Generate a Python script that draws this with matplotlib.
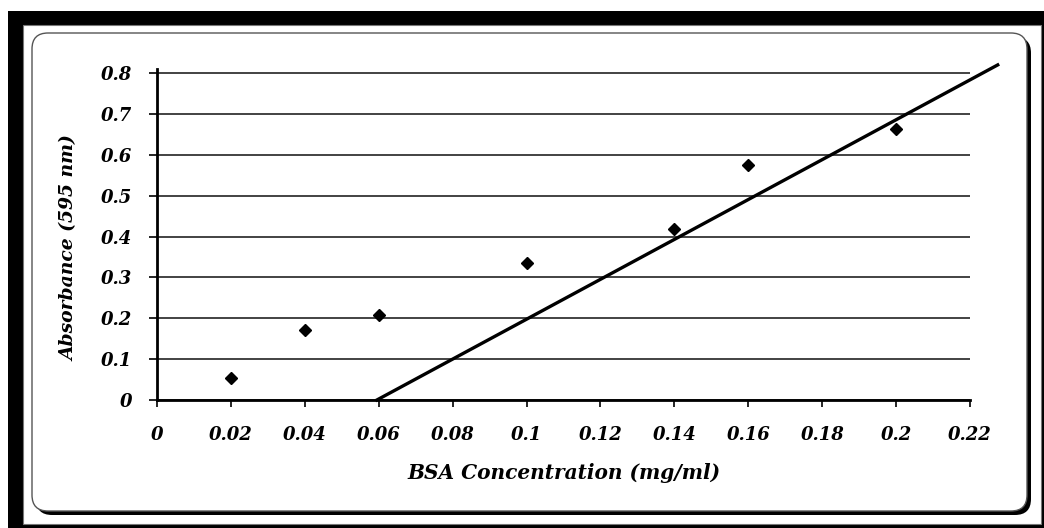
import matplotlib
matplotlib.use('Agg')

import matplotlib.pyplot as plt
from matplotlib.patches import Rectangle, FancyBboxPatch

# BSA standard curve data
bsa_conc = [0.02, 0.04, 0.06, 0.10, 0.14, 0.16, 0.20]
absorbance = [0.054, 0.172, 0.209, 0.336, 0.418, 0.575, 0.662]

# straight line drawn on the chart (end points in data units)
fit_x = [0.0595, 0.2275]
fit_y = [0.0, 0.82]

x_ticks = [0, 0.02, 0.04, 0.06, 0.08, 0.1, 0.12, 0.14, 0.16, 0.18, 0.2, 0.22]
x_labels = ['0', '0.02', '0.04', '0.06', '0.08', '0.1', '0.12', '0.14', '0.16', '0.18', '0.2', '0.22']
y_ticks = [0, 0.1, 0.2, 0.3, 0.4, 0.5, 0.6, 0.7, 0.8]
y_labels = ['0', '0.1', '0.2', '0.3', '0.4', '0.5', '0.6', '0.7', '0.8']

W, H = 1044, 528
fig = plt.figure(figsize=(W / 100, H / 100), dpi=100)
fig.patch.set_facecolor('white')


def box(x0, y0, x1, y1):
    # pixel box (top-left origin) -> figure fractions
    return x0 / W, 1 - y1 / H, (x1 - x0) / W, (y1 - y0) / H


# outer black frame with white inner panel
fx, fy, fw, fh = box(8, 11, 1044, 528)
fig.patches.append(Rectangle((fx, fy), fw, fh, transform=fig.transFigure,
                             facecolor='black', edgecolor='none', zorder=0))
fx, fy, fw, fh = box(23, 25, 1041, 524)
fig.patches.append(Rectangle((fx, fy), fw, fh, transform=fig.transFigure,
                             facecolor='white', edgecolor='#777777', linewidth=0.8, zorder=1))

# rounded chart area with shadow on right / bottom
pad = 16
fx, fy, fw, fh = box(32 + pad, 33 + pad, 1027 - pad, 511 - pad)
style = 'round,pad=%f,rounding_size=%f' % (pad, pad)
shadow = FancyBboxPatch((fx * W + 4, fy * H - 4), fw * W, fh * H, boxstyle=style,
                        transform=None, facecolor='black', edgecolor='none', zorder=2)
panel = FancyBboxPatch((fx * W, fy * H), fw * W, fh * H, boxstyle=style,
                       transform=None, facecolor='white', edgecolor='#555555',
                       linewidth=1.0, zorder=3)
fig.patches.append(shadow)
fig.patches.append(panel)

ax = fig.add_axes([157 / W, 1 - 400 / H, (970 - 157) / W, (400 - 69) / H])
ax.set_facecolor('none')
ax.set_zorder(5)

ax.set_xlim(0, 0.22)
ax.set_ylim(0, 0.81)

font = dict(family='DejaVu Serif', weight='bold', style='italic', size=13)

ax.set_xticks(x_ticks)
ax.set_xticklabels(x_labels, fontdict=font)
ax.set_yticks(y_ticks)
ax.set_yticklabels(y_labels, fontdict=font)
ax.tick_params(axis='x', direction='out', length=5, width=1.2, pad=14, colors='black')
ax.tick_params(axis='y', direction='out', length=6, width=1.2, pad=12, colors='black')

for s in ['top', 'right']:
    ax.spines[s].set_visible(False)
for s in ['left', 'bottom']:
    ax.spines[s].set_linewidth(2.0)
    ax.spines[s].set_color('black')

ax.yaxis.grid(True, color='#222222', linewidth=1.2)
ax.set_axisbelow(True)

ax.plot(bsa_conc, absorbance, linestyle='none', marker='D', markersize=6.5,
        color='black', zorder=4)
ax.plot(fit_x, fit_y, color='black', linewidth=2.4, clip_on=False, zorder=4)

fig.text(564 / W, 1 - 473 / H, 'BSA Concentration (mg/ml)', ha='center', va='center',
         family='DejaVu Serif', weight='bold', style='italic', size=14.5)
fig.text(70 / W, 1 - 248 / H, 'Absorbance (595 nm)', ha='center', va='center',
         rotation=90, family='DejaVu Serif', weight='bold', style='italic', size=13.5)

fig.savefig('out.png', dpi=100)
